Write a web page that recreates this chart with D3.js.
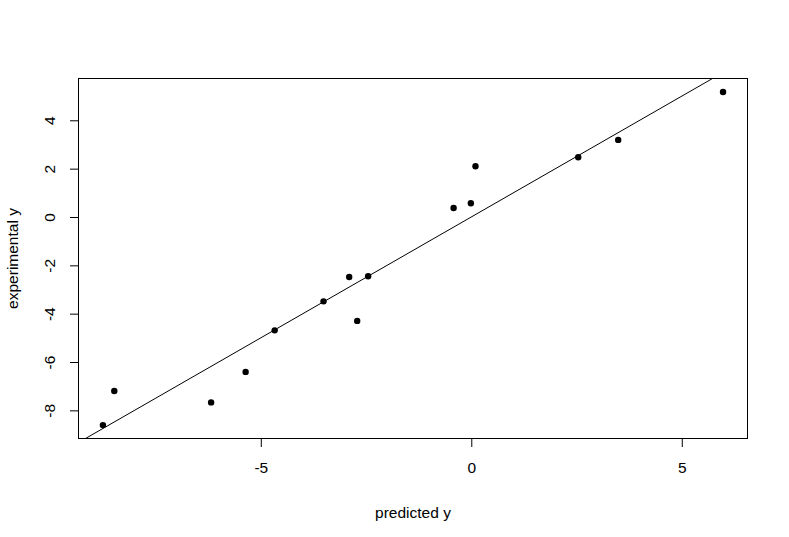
<!DOCTYPE html>
<html><head><meta charset="utf-8">
<script src="https://cdn.jsdelivr.net/npm/d3@7"></script>
<style>body{margin:0;background:#fff}svg{display:block;font-family:"Liberation Sans",Arial,sans-serif}</style>
</head><body>
<svg id="c" width="789" height="537"></svg>
<script>
const predicted = [-8.75, -8.48, -6.18, -5.36, -4.67, -3.51, -2.90, -2.45, -2.71, -0.42, -0.01, 0.10, 2.54, 3.49, 5.98];
const experimental = [-8.61, -7.20, -7.67, -6.41, -4.69, -3.49, -2.48, -2.45, -4.30, 0.37, 0.57, 2.10, 2.47, 3.19, 5.17];
const xTicks = [-5, 0, 5];
const yTicks = [-8, -6, -4, -2, 0, 2, 4];
const xLabel = "predicted y";
const yLabel = "experimental y";

const FS = 15.5;
const svg = d3.select("#c");
const L = 78, R = 748, T = 78, B = 439;
const x = d3.scaleLinear().domain([-9.342, 6.573]).range([L, R]);
const y = d3.scaleLinear().domain([-9.185, 5.75]).range([B, T]);
const fmt = d => String(d);

svg.append("defs").append("clipPath").attr("id","clip")
  .append("rect").attr("x",L).attr("y",T).attr("width",R-L).attr("height",B-T);

// abline y = x
const lo = Math.min(x.domain()[0], y.domain()[0]) - 1, hi = Math.max(x.domain()[1], y.domain()[1]) + 1;
svg.append("line").attr("clip-path","url(#clip)")
  .attr("x1", x(lo)).attr("y1", y(lo)).attr("x2", x(hi)).attr("y2", y(hi))
  .attr("stroke","#000").attr("stroke-width",1);

// points
svg.append("g").selectAll("circle").data(predicted).join("circle")
  .attr("cx", d => x(d)).attr("cy", (d,i) => y(experimental[i]))
  .attr("r", 3.2).attr("fill","#000");

// box
svg.append("rect").attr("x",L+0.5).attr("y",T+0.5).attr("width",R-L-1).attr("height",B-T-1)
  .attr("fill","none").attr("stroke","#000").attr("stroke-width",1);

// x axis
const xa = svg.append("g").attr("transform",`translate(0,${B})`)
  .call(d3.axisBottom(x).tickValues(xTicks).tickSize(8).tickFormat(fmt));
xa.select(".domain").remove();
xa.selectAll("text").attr("font-size",FS).attr("font-family","Liberation Sans, Arial").attr("dy",0).attr("y",34).attr("fill","#000");
xa.selectAll("line").attr("stroke","#000");

// y axis
const ya = svg.append("g").attr("transform",`translate(${L},0)`)
  .call(d3.axisLeft(y).tickValues(yTicks).tickSize(8).tickFormat(fmt));
ya.select(".domain").remove();
ya.selectAll("line").attr("stroke","#000");
ya.selectAll("text").attr("font-size",FS).attr("font-family","Liberation Sans, Arial")
  .attr("x",null).attr("dy",0).attr("text-anchor","middle").attr("fill","#000")
  .attr("transform","translate(-23,0) rotate(-90)");

// axis labels
svg.append("text").attr("x",(L+R)/2).attr("y",518).attr("text-anchor","middle")
  .attr("font-size",FS).attr("fill","#000").text(xLabel);
svg.append("text").attr("transform",`translate(18,${(T+B)/2}) rotate(-90)`).attr("text-anchor","middle")
  .attr("font-size",FS).attr("fill","#000").text(yLabel);
</script>
</body></html>
